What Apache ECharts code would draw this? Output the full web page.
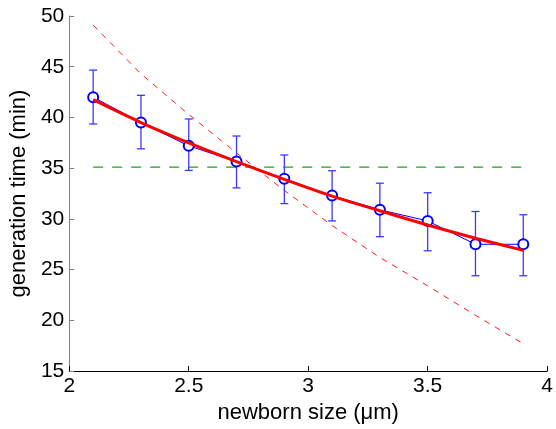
<!DOCTYPE html>
<html>
<head>
<meta charset="utf-8">
<script src="https://cdn.jsdelivr.net/npm/echarts@6/dist/echarts.min.js"></script>
<style>
html,body{margin:0;padding:0;background:#fff;}
#c{width:556px;height:429px;}
</style>
</head>
<body>
<div id="c"></div>
<script>
// newborn size (um)
const sizes = [2.1, 2.3, 2.5, 2.7, 2.9, 3.1, 3.3, 3.5, 3.7, 3.9];
// measured mean generation time (min)
const meanTime = [42.0, 39.5, 37.2, 35.65, 33.95, 32.3, 30.9, 29.8, 27.5, 27.5];
// error bar ends
const lowerErr = [39.36, 36.91, 34.78, 33.06, 31.51, 29.8, 28.25, 26.86, 24.4, 24.4];
const upperErr = [44.67, 42.18, 39.85, 38.17, 36.3, 34.75, 33.52, 32.58, 30.73, 30.41];
// fitted curve (solid red)
const fitTime = [41.75, 39.5, 37.5, 35.65, 33.9, 32.25, 30.8, 29.4, 28.1, 26.9];
// model curve (dashed red)
const modelTime = [49.1, 44.3, 40.3, 36.5, 32.8, 29.35, 26.2, 23.4, 20.5, 17.7];
// constant generation time (dashed green)
const constTime = [35.1, 35.1, 35.1, 35.1, 35.1, 35.1, 35.1, 35.1, 35.1, 35.1];
const xTicks = [2, 2.5, 3, 3.5, 4];
const yTicks = [15, 20, 25, 30, 35, 40, 45, 50];

const pairs = (ys) => sizes.map((s, i) => [s, ys[i]]);
const font = 'Liberation Sans, Arial, Helvetica, sans-serif';

const chart = echarts.init(document.getElementById('c'), null, {renderer: 'canvas'});
chart.setOption({
  animation: false,
  backgroundColor: '#ffffff',
  grid: {left: 69, right: 8, top: 16, bottom: 52, containLabel: false},
  xAxis: {
    type: 'value',
    min: xTicks[0], max: xTicks[xTicks.length - 1], interval: 0.5,
    name: 'newborn size (μm)',
    nameLocation: 'middle', nameGap: 28,
    nameTextStyle: {fontFamily: font, fontSize: 22, color: '#000'},
    axisLine: {show: true, lineStyle: {color: '#000', width: 1}},
    axisTick: {show: true, inside: true, length: 5, lineStyle: {color: '#000'}},
    axisLabel: {fontFamily: font, fontSize: 21, color: '#000', margin: 5},
    splitLine: {show: false}
  },
  yAxis: {
    type: 'value',
    min: yTicks[0], max: yTicks[yTicks.length - 1], interval: 5,
    name: 'generation time (min)',
    nameLocation: 'middle', nameGap: 36,
    nameTextStyle: {fontFamily: font, fontSize: 22, color: '#000'},
    axisLine: {show: true, lineStyle: {color: '#7f7f7f', width: 1}},
    axisTick: {show: true, inside: true, length: 5, lineStyle: {color: '#7f7f7f'}},
    axisLabel: {fontFamily: font, fontSize: 21, color: '#000', margin: 5},
    splitLine: {show: false}
  },
  series: [
    {
      type: 'line', data: pairs(constTime), showSymbol: false, symbol: 'none',
      lineStyle: {color: '#1e9e1e', width: 1.4, type: [10, 9]}, z: 1
    },
    {
      type: 'line', data: pairs(modelTime), showSymbol: false, symbol: 'none',
      lineStyle: {color: '#ff1a1a', width: 1, type: [6, 6]}, z: 1
    },
    {
      type: 'custom',
      data: sizes.map((s, i) => [s, lowerErr[i], upperErr[i]]),
      renderItem: function (params, api) {
        const x = api.value(0);
        const pLo = api.coord([x, api.value(1)]);
        const pHi = api.coord([x, api.value(2)]);
        const w = 4;
        const st = {stroke: '#3a3aff', lineWidth: 1.3};
        return {
          type: 'group',
          children: [
            {type: 'line', shape: {x1: pLo[0], y1: pLo[1], x2: pHi[0], y2: pHi[1]}, style: st},
            {type: 'line', shape: {x1: pLo[0] - w, y1: pLo[1], x2: pLo[0] + w, y2: pLo[1]}, style: st},
            {type: 'line', shape: {x1: pHi[0] - w, y1: pHi[1], x2: pHi[0] + w, y2: pHi[1]}, style: st}
          ]
        };
      },
      z: 2
    },
    {
      type: 'line', data: pairs(meanTime),
      symbol: 'emptyCircle', symbolSize: 10, showSymbol: true,
      itemStyle: {color: '#0000ff', borderColor: '#0000ff', borderWidth: 1},
      lineStyle: {color: '#0000ff', width: 1}, z: 3
    },
    {
      type: 'line', data: pairs(fitTime), showSymbol: false, symbol: 'none', smooth: 0.3,
      lineStyle: {color: '#ff0000', width: 3}, z: 4
    }
  ]
});
</script>
</body>
</html>
